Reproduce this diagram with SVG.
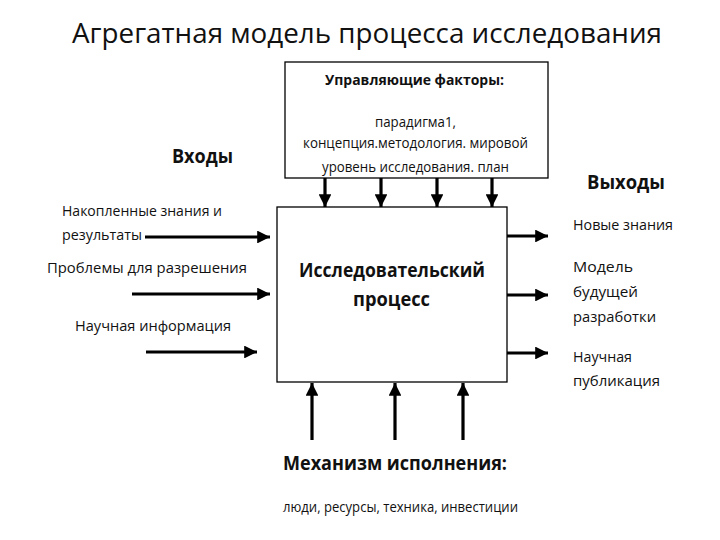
<svg xmlns="http://www.w3.org/2000/svg" width="720" height="540" viewBox="0 0 720 540">
<style>
text{font-family:"Open Sans","Noto Sans","Liberation Sans",sans-serif;fill:#111}
.t{font-size:27px}
.b{font-size:19px;font-weight:bold}
.bs{font-size:15px;font-weight:bold}
.r{font-size:15px}
.box{fill:#fff;stroke:#000;stroke-width:1.3}
.ar{stroke:#000;stroke-width:3.2;fill:none;marker-end:url(#ah)}
</style>
<defs>
<marker id="ah" viewBox="0 0 10 10" refX="10" refY="5" markerWidth="4" markerHeight="4" markerUnits="strokeWidth" orient="auto">
<path d="M0,0 L10,5 L0,10 z" fill="#000"/>
</marker>
</defs>
<rect width="720" height="540" fill="#fff"/>
<text class="t" x="72" y="43" textLength="590" lengthAdjust="spacingAndGlyphs">Агрегатная модель процесса исследования</text>

<g id="controls">
<rect class="box" x="285" y="62" width="263" height="116"/>
<text class="bs" x="325" y="85" textLength="179" lengthAdjust="spacingAndGlyphs">Управляющие факторы:</text>
<text class="r" x="375" y="127" textLength="81" lengthAdjust="spacingAndGlyphs">парадигма1,</text>
<text class="r" x="303" y="148" textLength="225" lengthAdjust="spacingAndGlyphs">концепция.методология. мировой</text>
<text class="r" x="322" y="172" textLength="187" lengthAdjust="spacingAndGlyphs">уровень исследования. план</text>
</g>

<g id="process">
<rect class="box" x="277" y="207" width="230" height="175"/>
<text class="b" x="299" y="277" textLength="186" lengthAdjust="spacingAndGlyphs">Исследовательский</text>
<text class="b" x="353" y="306" textLength="77" lengthAdjust="spacingAndGlyphs">процесс</text>
</g>

<g id="inputs">
<text class="b" x="172" y="163" textLength="61" lengthAdjust="spacingAndGlyphs">Входы</text>
<text class="r" x="62" y="216" textLength="160" lengthAdjust="spacingAndGlyphs">Накопленные знания и</text>
<text class="r" x="62" y="240" textLength="80" lengthAdjust="spacingAndGlyphs">результаты</text>
<text class="r" x="47" y="273" textLength="200" lengthAdjust="spacingAndGlyphs">Проблемы для разрешения</text>
<text class="r" x="75" y="331" textLength="156" lengthAdjust="spacingAndGlyphs">Научная информация</text>
</g>

<g id="outputs">
<text class="b" x="587" y="189" textLength="78" lengthAdjust="spacingAndGlyphs">Выходы</text>
<text class="r" x="573" y="230" textLength="100" lengthAdjust="spacingAndGlyphs">Новые знания</text>
<text class="r" x="573" y="272" textLength="60" lengthAdjust="spacingAndGlyphs">Модель</text>
<text class="r" x="573" y="297" textLength="65" lengthAdjust="spacingAndGlyphs">будущей</text>
<text class="r" x="573" y="322" textLength="83" lengthAdjust="spacingAndGlyphs">разработки</text>
<text class="r" x="573" y="362" textLength="59" lengthAdjust="spacingAndGlyphs">Научная</text>
<text class="r" x="573" y="386" textLength="87" lengthAdjust="spacingAndGlyphs">публикация</text>
</g>

<g id="mechanism">
<text class="b" x="283" y="470" textLength="224" lengthAdjust="spacingAndGlyphs">Механизм исполнения:</text>
<text class="r" x="283" y="512" textLength="235" lengthAdjust="spacingAndGlyphs">люди, ресурсы, техника, инвестиции</text>
</g>

<g id="connectors">
<line class="ar" x1="325" y1="178" x2="325" y2="207"/>
<line class="ar" x1="381" y1="178" x2="381" y2="207"/>
<line class="ar" x1="437" y1="178" x2="437" y2="207"/>
<line class="ar" x1="492" y1="178" x2="492" y2="207"/>
<line class="ar" x1="145" y1="237" x2="270" y2="237"/>
<line class="ar" x1="132" y1="294" x2="270" y2="294"/>
<line class="ar" x1="146" y1="352" x2="257" y2="352"/>
<line class="ar" x1="507" y1="236" x2="548" y2="236"/>
<line class="ar" x1="507" y1="295" x2="548" y2="295"/>
<line class="ar" x1="507" y1="353" x2="548" y2="353"/>
<line class="ar" x1="312" y1="440" x2="312" y2="383"/>
<line class="ar" x1="395" y1="440" x2="395" y2="383"/>
<line class="ar" x1="463" y1="440" x2="463" y2="383"/>
</g>
</svg>
